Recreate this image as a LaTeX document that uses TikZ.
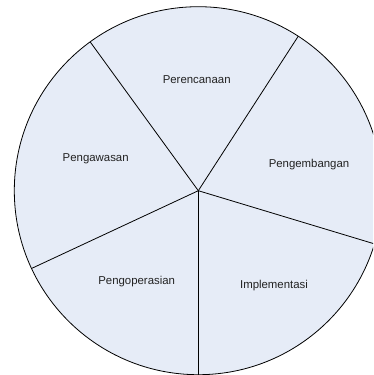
\documentclass[tikz,border=0pt]{standalone}
\usepackage{fontspec}
\setmainfont{Liberation Sans}
\usetikzlibrary{calc}
\definecolor{pie}{RGB}{230,236,247}
\definecolor{ink}{RGB}{34,34,34}
\tikzset{
	slice/.style={draw=black, line width=0.8pt},
	phase/.style={text=ink, font=\fontsize{11.4}{13}\selectfont, inner sep=0pt}
}

\begin{document}
\begin{tikzpicture}[x=1pt, y=1pt]
			\clip (0,0) rectangle (373,-375);
			\fill [white] (0,0) rectangle (373,-375);
			\coordinate (c) at (198.3,-190.7);
			\draw [slice, fill=pie] (c) circle (184);
			\coordinate (s1) at ($(c)+(126:184)$);
			\coordinate (s2) at ($(c)+(57.1:184)$);
			\coordinate (s3) at ($(c)+(-16.8:184)$);
			\coordinate (s4) at ($(c)+(-90:184)$);
			\coordinate (s5) at ($(c)+(-155:184)$);
			\foreach \s in {s1,s2,s3,s4,s5}
				\draw [slice] (c) -- (\s);
			\node [phase] (rencana) at (196.7,-79.3) {Perencanaan};
			\node [phase] (kembang) at (309,-165) {Pengembangan};
			\node [phase] (implementasi) at (274,-285.7) {Implementasi};
			\node [phase] (operasi) at (136.7,-281.7) {Pengoperasian};
			\node [phase] (awas) at (95.7,-159) {Pengawasan};
	 	\end{tikzpicture}
\end{document}
